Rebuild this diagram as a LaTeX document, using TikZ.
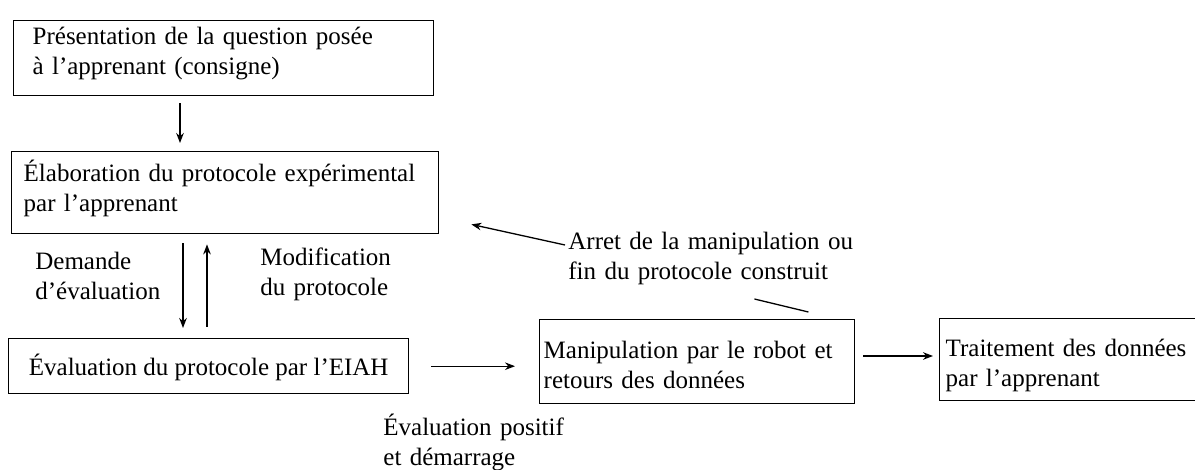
\documentclass[tikz,border=0pt]{standalone}
\usepackage{fontspec}
\setmainfont{Liberation Serif}
\usetikzlibrary{arrows.meta}

\begin{document}
\begin{tikzpicture}[x=0.5pt, y=-0.5pt, >={Stealth[length=5pt,width=3.8pt]},
        font=\fontsize{12.5}{15}\selectfont,
        etape/.style={draw, line width=0.7pt, anchor=north west, align=left, inner ysep=0pt},
        legende/.style={anchor=base west, align=left, inner sep=0pt, text width=#1},
        fleche/.style={->, line width=0.65pt}]

    \useasboundingbox (0,0) rectangle (1195,470);

    % les etapes
    \node[etape, inner xsep=9.5pt, text width=191pt, text height=12pt, text depth=25.5pt] (consigne) at (13,20)
        {Présentation de la question posée\\à l'apprenant (consigne)};
    \node[etape, inner xsep=6pt, text width=201.5pt, text height=15pt, text depth=26pt] (elaboration) at (11,151)
        {Élaboration du protocole expérimental\\par l'apprenant};
    \node[etape, inner xsep=8pt, minimum width=200pt, text height=18.5pt, text depth=9pt] (evaluation) at (8,338)
        {Évaluation du protocole par l'EIAH};
    \node[etape, inner xsep=2pt, text width=153.5pt, text height=19.5pt, text depth=22.5pt] (manipulation) at (539,319)
        {Manipulation par le robot et\\retours des données};
    \node[etape, inner xsep=3pt, text width=123.5pt, text height=19pt, text depth=22pt] (traitement) at (939,318)
        {Traitement des données\\par l'apprenant};

    % les legendes
    \node[legende=80pt] (demande) at (35,270) {Demande\\d'évaluation};
    \node[legende=90pt] (modification) at (260,266) {Modification\\du protocole};
    \node[legende=160pt] (arret) at (568,250) {Arret de la manipulation ou\\fin du protocole construit};
    \node[legende=120pt] (positif) at (383,436) {Évaluation positif\\et démarrage};

    % les fleches
    \draw[fleche, shorten <=3.5pt, shorten >=4pt] (consigne.south -| 180,0) -- (elaboration.north -| 180,0);
    \draw[fleche, shorten <=4.5pt, shorten >=5pt] (elaboration.south -| 183,0) -- (evaluation.north -| 183,0);
    \draw[fleche, shorten <=5.5pt, shorten >=5pt] (evaluation.north -| 207,0) -- (elaboration.south -| 207,0);
    \draw[fleche, shorten <=11pt, shorten >=12pt] (evaluation.east) -- (manipulation.west |- evaluation.east);
    \draw[fleche, shorten <=4pt, shorten >=3pt] (manipulation.east |- 0,356) -- (traitement.west |- 0,356);

    \coordinate (retour) at ([shift={(32,-10)}]elaboration.south east);
    \draw[fleche] ([shift={(-3,-5)}]arret.base west) -- (retour);
    \draw[line width=0.65pt] ([shift={(-101,-20)}]manipulation.north east) -- ([shift={(-47,-7)}]manipulation.north east);

\end{tikzpicture}
\end{document}
